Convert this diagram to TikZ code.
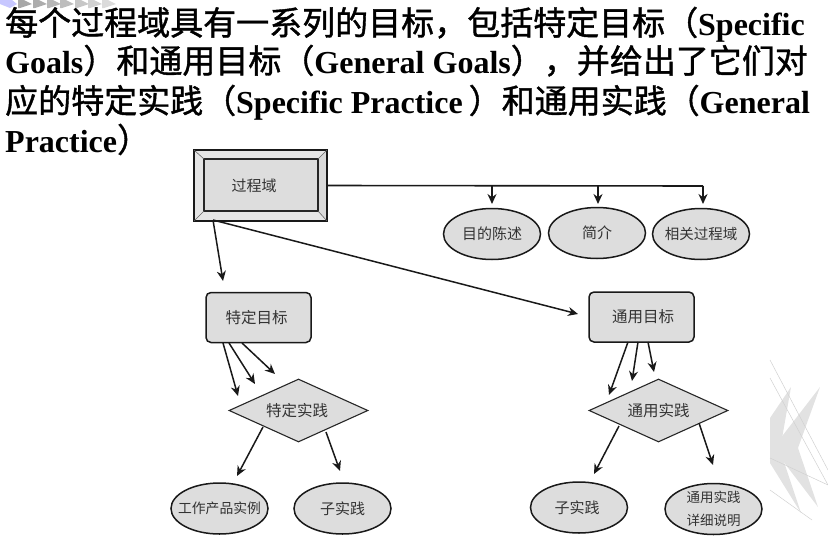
\documentclass[tikz,border=0pt]{standalone}
\usepackage{fontspec}
\usetikzlibrary{shapes.geometric,arrows.meta,calc}
\setmainfont{Liberation Serif}
\newfontfamily\cjk{Noto Sans CJK SC}
\newfontfamily\cjkt[FakeBold=1.2]{Noto Sans CJK SC}
\definecolor{fillgray}{HTML}{DDDDDD}
\definecolor{markgray}{HTML}{E2E2E2}
\tikzset{
  x=1pt,y=-1pt,
  conn/.style={draw=black!90,line width=1.5pt,-{Stealth[length=10pt,width=9pt]}},
  titleline/.style={anchor=base west,inner sep=0pt,font=\fontsize{32pt}{36pt}\selectfont\bfseries},
  oval/.style={shape=ellipse,draw=black!90,fill=fillgray,line width=1.5pt,minimum width=97pt,minimum height=51pt,inner sep=0pt,font=\cjk\fontsize{15pt}{18pt}\selectfont,text=black!80},
  goalbox/.style={draw=black!90,fill=fillgray,line width=1.5pt,rounded corners=5pt,minimum width=105pt,minimum height=50pt,inner sep=0pt,font=\cjk\fontsize{15.5pt}{18pt}\selectfont,text=black!80},
  practice/.style={shape=diamond,draw=black!85,fill=fillgray,line width=1.1pt,shape aspect=2.2,minimum width=139pt,minimum height=63pt,inner sep=0pt,font=\cjk\fontsize{15.5pt}{18pt}\selectfont,text=black!80},
}
\newcommand{\cj}[1]{{\cjkt\fontsize{33pt}{36pt}\selectfont\mdseries #1}}
\newcommand{\oo}[1]{\makebox[0pt][c]{#1}}
\begin{document}
\begin{tikzpicture}
\useasboundingbox (0,0) rectangle (828,544);
% decoration
\fill[blue!22] (0,0) -- (12,0) -- (17,4) -- (10,8) -- (0,4) -- cycle;
\foreach \x/\c in {18/34,33/32,47/28,60/26,75/22,88/18,102/14}{
  \fill[black!\c] (\x,0) -- (\x+6,0) -- (\x+14,4) -- (\x+2,8) -- (\x,8) -- cycle;
}
\fill[markgray] (791,387) -- (770,418) -- (770,463) -- (801,513) -- (780,450) -- cycle;
\fill[markgray] (820,387) -- (773,448) -- (818,507) -- (798,448) -- cycle;
\draw[black!18,line width=0.5pt] (770,360) -- (828,470) (770,378) -- (828,485) (770,458) -- (828,485) (770,490) -- (812,520);
% title
\node[titleline] (t1) at (5,35) {\cj{每个过程域具有一系列的目标，包括特定目标（}Specific};
\node[titleline] (t2) at (5,73) {Goals\cj{）和通用目标（}General Goals\cj{），并给出了它们对}};
\node[titleline] (t3) at (5,113) {\cj{应的特定实践（}Specific Practice\kern6pt\cj{）和通用实践（}General};
\node[titleline] (t4) at (5,152) {Practice\cj{）}};
% process area
\node[draw=black!90,fill=fillgray,line width=1.6pt,minimum width=131pt,minimum height=69pt,inner sep=0pt] (proc) at (260.5,185.5) {};
\fill[black!10] (proc.north west) -- (proc.north east) -- (318,159) -- (204,159) -- cycle;
\fill[black!10] (proc.north west) -- (proc.south west) -- (204,211) -- (204,159) -- cycle;
\fill[black!15] (proc.north east) -- (proc.south east) -- (318,211) -- (318,159) -- cycle;
\fill[black!10] (proc.south west) -- (proc.south east) -- (318,211) -- (204,211) -- cycle;
\draw[black!90,line width=1.8pt] (proc.north west) rectangle (proc.south east);
\draw[black!85,line width=1.3pt,fill=fillgray] (204,159) rectangle (318,211);
\draw[black!60,line width=0.6pt] (proc.north west) -- (204,159) (proc.north east) -- (318,159) (proc.south west) -- (204,211) (proc.south east) -- (318,211);
\node[font=\cjk\fontsize{15pt}{18pt}\selectfont,text=black!80] (proclabel) at (254,186) {过程域};
% upper ovals
\node[oval] (aim) at (492,234) {\oo{目的陈述}};
\node[oval] (intro) at (597,233) {\oo{简介}};
\node[oval,font=\cjk\fontsize{14.5pt}{18pt}\selectfont] (rel) at (701,234) {\oo{相关过程域}};
% goals
\node[goalbox] (sg) at (258.5,317.5) {\oo{\kern-4pt特定目标}};
\node[goalbox] (gg) at (641.5,317) {\oo{\kern3pt通用目标}};
% practices
\node[practice] (sp) at (298.5,410.5) {\oo{\kern-3pt特定实践}};
\node[practice] (gp) at (658.5,410.5) {\oo{通用实践}};
% lower ovals
\node[oval,font=\cjk\fontsize{13.8pt}{16pt}\selectfont] (wp) at (219.5,508.5) {\oo{工作产品实例}};
\node[oval] (sub1) at (342.5,508.5) {\oo{子实践}};
\node[oval] (sub2) at (579,507.5) {\oo{\kern-4pt子实践}};
\node[oval,align=center,font=\cjk\fontsize{13.5pt}{23pt}\selectfont] (det) at (713.5,509) {\oo{通用实践}\\\oo{详细说明}};
% connectors
\coordinate (bus) at (proc.east);
\coordinate (busa) at (492,186);
\coordinate (busb) at (598,186);
\coordinate (busc) at (703,186);
\coordinate (taim) at (492,204);
\coordinate (tintro) at (598,204);
\coordinate (trel) at (703,204);
\draw[black!90,line width=1.6pt] (bus) -- (busc);
\draw[conn] (busa) -- (taim);
\draw[conn] (busb) -- (tintro);
\draw[conn] (busc) -- (trel);
\coordinate (pfoot) at (213,220);
\coordinate (tsg) at (223,281);
\coordinate (tgg) at (578,314);
\draw[conn] (pfoot) -- (tsg);
\draw[conn] (pfoot) -- (tgg);
\coordinate (sa) at (223,343); \coordinate (sb) at (229,343); \coordinate (sc) at (242,343);
\coordinate (sta) at (238,396); \coordinate (stb) at (255,384); \coordinate (stc) at (275,374);
\draw[conn] (sa) -- (sta); \draw[conn] (sb) -- (stb); \draw[conn] (sc) -- (stc);
\coordinate (ga) at (628,342); \coordinate (gb) at (638,342); \coordinate (gc) at (648,342);
\coordinate (gta) at (609,395); \coordinate (gtb) at (632,381); \coordinate (gtc) at (654,372);
\draw[conn] (ga) -- (gta); \draw[conn] (gb) -- (gtb); \draw[conn] (gc) -- (gtc);
\coordinate (da) at (263,427); \coordinate (db) at (326,432);
\coordinate (dta) at (237,476); \coordinate (dtb) at (340,471);
\draw[conn] (da) -- (dta); \draw[conn] (db) -- (dtb);
\coordinate (ea) at (619,426); \coordinate (eb) at (699,423);
\coordinate (eta) at (594,474); \coordinate (etb) at (713,465);
\draw[conn] (ea) -- (eta); \draw[conn] (eb) -- (etb);
\end{tikzpicture}
\end{document}
